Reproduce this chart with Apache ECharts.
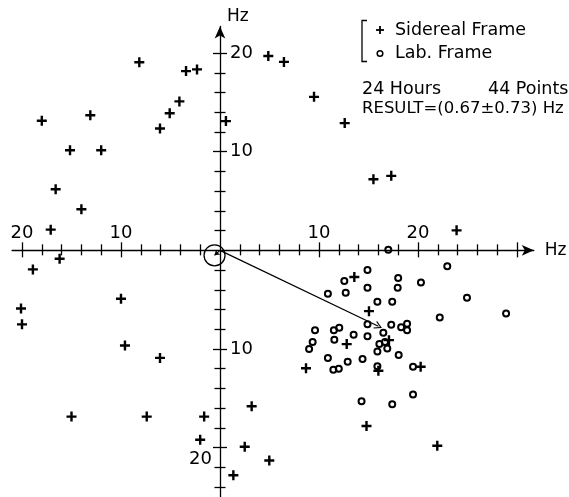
<!DOCTYPE html>
<html>
<head>
<meta charset="utf-8">
<script src="https://cdn.jsdelivr.net/npm/echarts@6/dist/echarts.min.js"></script>
<style>html,body{margin:0;padding:0;background:#fff;}#c{width:569px;height:497px;}</style>
</head>
<body>
<div id="c"></div>
<script>
// Sidereal frame points (+), Hz
const siderealPoints = [
  [-8.15,19.06],[-3.43,18.17],[-2.32,18.34],[-18.0,13.13],[-13.1,13.7],[-4.1,15.1],[-5.08,13.9],[-6.06,12.35],
  [-15.15,10.15],[-12.0,10.15],[-16.6,6.2],[-14.0,4.16],[-17.1,2.1],
  [4.88,19.7],[6.46,19.1],[9.5,15.56],[0.6,13.1],[12.6,12.9],[15.5,7.2],[17.3,7.55],[23.9,2.03],
  [-16.2,-0.85],[-18.9,-1.93],[-20.1,-5.9],[-20.0,-7.5],[-10.0,-4.9],[-9.6,-9.64],[-6.06,-10.9],
  [-15.0,-16.85],[-7.4,-16.85],[-1.6,-16.85],[-2.0,-19.2],
  [13.57,-2.7],[15.05,-6.16],[12.8,-9.5],[17.07,-9.1],[8.69,-11.95],[16.0,-12.2],[20.27,-11.8],
  [3.2,-15.8],[14.8,-17.8],[2.5,-19.9],[4.98,-21.3],[21.95,-19.8],[1.35,-22.8]
];
// Lab frame points (o), Hz
const labPoints = [
  [17.0,0.07],[22.96,-1.6],[14.9,-2.0],[12.56,-3.1],[18.0,-2.8],[20.3,-3.25],[10.9,-4.4],[12.7,-4.3],
  [14.9,-3.8],[17.95,-3.8],[15.9,-5.2],[17.4,-5.2],[24.95,-4.8],[28.9,-6.4],[22.2,-6.8],[14.9,-7.5],
  [17.3,-7.55],[18.9,-7.45],[18.3,-7.8],[18.9,-8.1],[9.6,-8.1],[11.5,-8.1],[12.05,-7.85],[16.5,-8.36],
  [13.5,-8.56],[14.9,-8.7],[11.55,-9.07],[9.36,-9.3],[16.1,-9.5],[16.67,-9.3],[16.9,-9.95],[9.0,-10.0],
  [15.9,-10.25],[18.05,-10.6],[10.9,-10.9],[14.4,-11.0],[12.9,-11.3],[15.9,-11.75],[19.5,-11.8],
  [11.45,-12.1],[12.0,-12.0],[19.5,-14.6],[14.3,-15.3],[17.4,-15.6]
];
// Lab-frame mean vector and sidereal result vector
const labMeanVector = [16.0, -7.7];
const resultVector = [-0.55, -0.5];

// Axis ticks and labels
const xMajorTicks = [-20, -10, 10, 20, 30];
const xMinorTicks = [-18,-16,-14,-12,-8,-6,-4,-2,2,4,6,8,12,14,16,18,22,24,26,28];
const xTickLabels = [-20, -10, 10, 20];
const yMajorTicks = [-20, -10, 10, 20];
const yMinorTicks = [-24,-22,-18,-16,-14,-12,-8,-6,-4,-2,2,4,6,8,12,14,16,18];
const yTickLabelsRight = [20, 10, -10];
const yTickLabelsLeft = [-20];

const FONT = 'DejaVu Sans';
const XR = {min: -21, max: 31.7};
const YR = {min: -25, max: 22.7};
const G = {left: 12.1, right: 35.2, top: 26.4, bottom: 0};
const W = 569, H = 497;
const gw = W - G.left - G.right, gh = H - G.top - G.bottom;
// offsets that put each axis through the origin
const xAxisOffset = -(gh * (0 - YR.min) / (YR.max - YR.min));
const yAxisOffset = -(gw * (0 - XR.min) / (XR.max - XR.min));

function mkAxis(dim, idx, ticks, len, inside, label) {
  const r = dim === 'x' ? XR : YR;
  const ax = {
    type: 'value', min: r.min, max: r.max, gridIndex: 0,
    position: dim === 'x' ? 'bottom' : 'left',
    offset: dim === 'x' ? xAxisOffset : yAxisOffset,
    splitLine: {show: false},
    axisLine: {
      show: true, onZero: false,
      lineStyle: {color: '#000', width: 1.3, opacity: idx === 0 ? 1 : 0},
      symbol: idx === 0 ? ['none', 'arrow'] : ['none', 'none'],
      symbolSize: [8, 12]
    },
    axisTick: {show: true, inside: inside, length: len, customValues: ticks,
      lineStyle: {color: '#000', width: 1.3}},
    axisLabel: {show: false}
  };
  if (label) ax.axisLabel = label;
  return ax;
}
const labelFmt = v => String(Math.abs(v));
const xAxes = [
  mkAxis('x', 0, xMinorTicks, 5, false, {show: true, inside: true, margin: 8, customValues: xTickLabels,
    formatter: labelFmt, color: '#000', fontSize: 18, fontFamily: FONT}),
  mkAxis('x', 1, xMinorTicks, 6, true),
  mkAxis('x', 2, xMajorTicks, 7, false),
  mkAxis('x', 3, xMajorTicks, 8, true)
];
xAxes[0].name = 'Hz';
xAxes[0].nameLocation = 'end';
xAxes[0].nameGap = 11;
xAxes[0].nameTextStyle = {color: '#000', fontSize: 17, fontFamily: FONT, padding: [4,0,0,0]};

const yAxes = [
  mkAxis('y', 0, yMinorTicks, 5.5, false, {show: true, inside: true, margin: 10, customValues: yTickLabelsRight,
    formatter: labelFmt, color: '#000', fontSize: 18, fontFamily: FONT}),
  mkAxis('y', 1, yMinorTicks, 5.5, true),
  mkAxis('y', 2, yMajorTicks, 7, false, {show: true, inside: false, margin: 8, customValues: yTickLabelsLeft,
    formatter: labelFmt, color: '#000', fontSize: 18, fontFamily: FONT, verticalAlign: 'top', padding: [3,0,0,0]}),
  mkAxis('y', 3, yMajorTicks, 7, true)
];
yAxes[0].name = 'Hz';
yAxes[0].nameLocation = 'end';
yAxes[0].nameGap = 1;
yAxes[0].nameTextStyle = {color: '#000', fontSize: 17, fontFamily: FONT, align: 'left', verticalAlign: 'bottom', padding: [0,0,0,7]};

const plusPath = 'path://M3.8,0H6.2V3.8H10V6.2H6.2V10H3.8V6.2H0V3.8H3.8Z';
const chevron = 'path://M5,0L10,9L9,10L5,2.8L1,10L0,9Z';

const chart = echarts.init(document.getElementById('c'), null, {renderer: 'canvas'});
chart.setOption({
  animation: false,
  backgroundColor: '#fff',
  grid: {left: G.left, right: G.right, top: G.top, bottom: G.bottom, containLabel: false, outerBoundsMode: 'none'},
  xAxis: xAxes,
  yAxis: yAxes,
  series: [
    {name: 'Sidereal Frame', type: 'scatter', data: siderealPoints, symbol: plusPath, symbolSize: 10,
      itemStyle: {color: '#000', opacity: 1}, z: 3},
    {name: 'Lab. Frame', type: 'scatter', data: labPoints, symbol: 'circle', symbolSize: 6,
      itemStyle: {color: 'rgba(0,0,0,0)', borderColor: '#000', borderWidth: 2, opacity: 1}, z: 3},
    {name: 'Lab mean', type: 'lines', coordinateSystem: 'cartesian2d',
      data: [{coords: [[0, 0], labMeanVector]}],
      lineStyle: {color: '#000', width: 1.2, opacity: 1},
      symbol: ['none', chevron], symbolSize: 8, z: 2},
    {name: 'Result', type: 'lines', coordinateSystem: 'cartesian2d',
      data: [{coords: [[0, 0], resultVector]}],
      lineStyle: {color: '#000', width: 1.2, opacity: 1},
      symbol: ['none', 'arrow'], symbolSize: 5, z: 2},
    {name: 'Result error', type: 'scatter', data: [resultVector], symbol: 'circle', symbolSize: 21,
      itemStyle: {color: 'rgba(0,0,0,0)', borderColor: '#000', borderWidth: 1.3, opacity: 1}, z: 2}
  ],
  graphic: [
    {type: 'polyline', shape: {points: [[367,20.5],[362,20.5],[362,61.5],[367,61.5]]},
      style: {stroke: '#000', lineWidth: 1.3, fill: null}},
    {type: 'line', shape: {x1: 376, y1: 30, x2: 384, y2: 30}, style: {stroke: '#000', lineWidth: 1.8}},
    {type: 'line', shape: {x1: 380, y1: 26, x2: 380, y2: 34}, style: {stroke: '#000', lineWidth: 1.8}},
    {type: 'circle', shape: {cx: 380, cy: 53.5, r: 2.8}, style: {stroke: '#000', lineWidth: 1.5, fill: null}},
    {type: 'text', x: 395, y: 30, style: {text: 'Sidereal Frame', font: '17.5px "DejaVu Sans"', fill: '#000', verticalAlign: 'middle'}},
    {type: 'text', x: 395, y: 53.5, style: {text: 'Lab. Frame', font: '17.5px "DejaVu Sans"', fill: '#000', verticalAlign: 'middle'}},
    {type: 'text', x: 362, y: 89, style: {text: '24 Hours', font: '17.5px "DejaVu Sans"', fill: '#000', verticalAlign: 'middle'}},
    {type: 'text', x: 488, y: 89, style: {text: '44 Points', font: '17.5px "DejaVu Sans"', fill: '#000', verticalAlign: 'middle'}},
    {type: 'text', x: 362, y: 109, style: {text: 'RESULT=(0.67±0.73) Hz', font: '16.5px "DejaVu Sans"', fill: '#000', verticalAlign: 'middle'}}
  ]
});
</script>
</body>
</html>
